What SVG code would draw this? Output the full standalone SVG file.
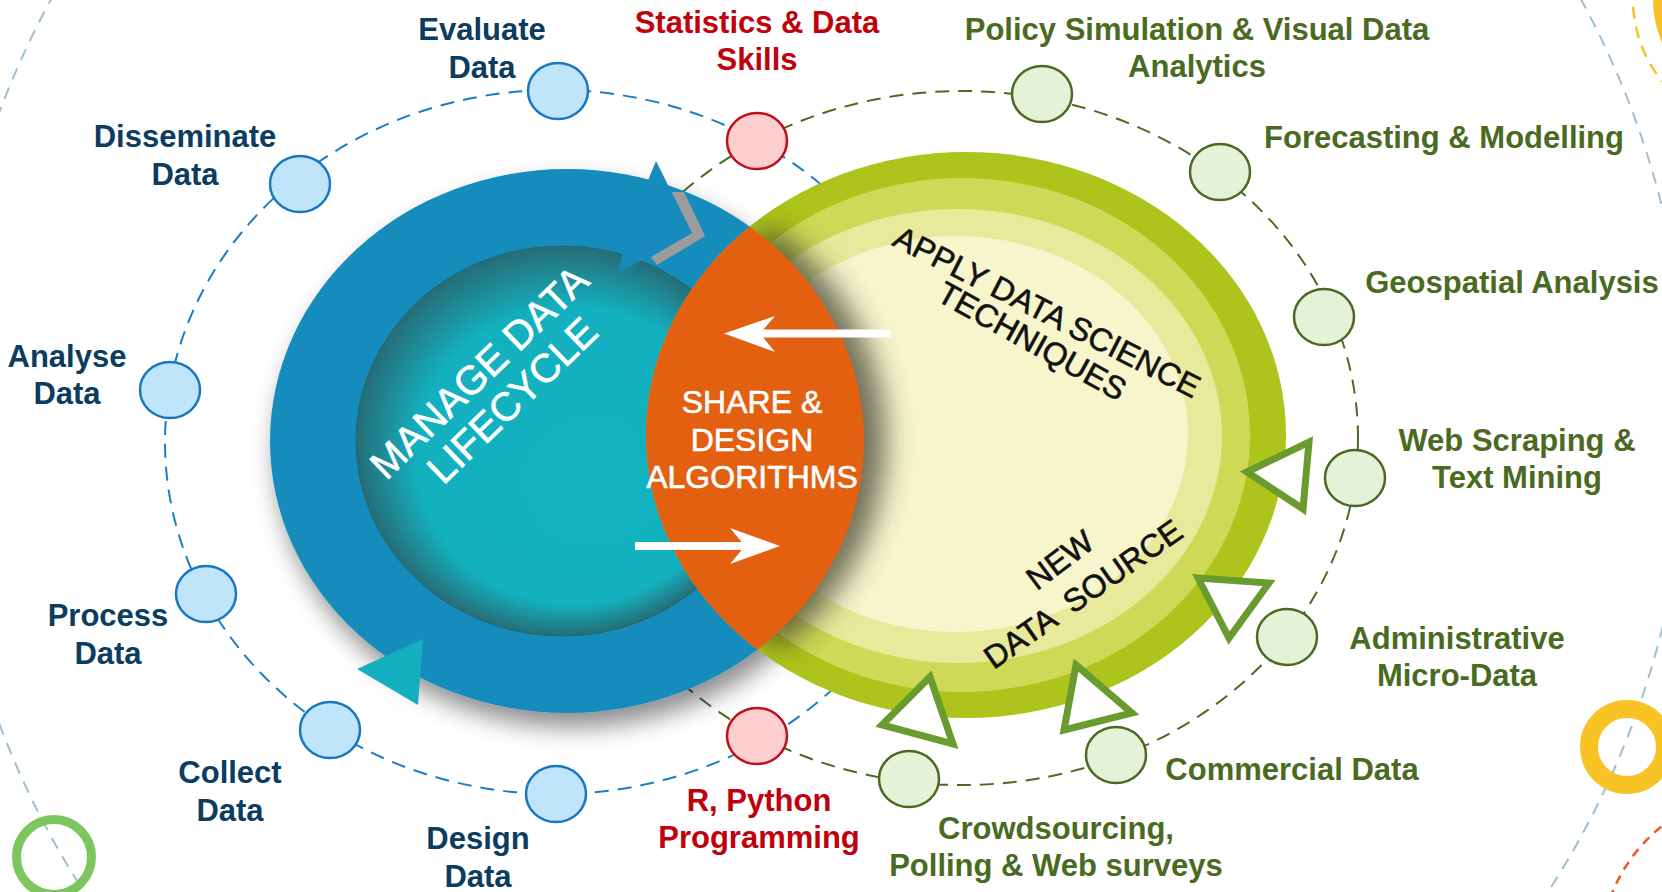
<svg xmlns="http://www.w3.org/2000/svg" width="1662" height="892" viewBox="0 0 1662 892">
<style>
.lbl{font-family:"Liberation Sans",Arial,sans-serif;font-weight:bold;font-size:31px;text-anchor:middle}
.blue{fill:#0c3c60}
.red{fill:#c0000b}
.green{fill:#4a6b1f}
.nb{fill:#c0e5fb;stroke:#1777c0;stroke-width:2.5}
.nr{fill:#fccfce;stroke:#c20e1a;stroke-width:2.5}
.ng{fill:#e5f2d8;stroke:#4a6a22;stroke-width:2.5}
.inner{font-family:"Liberation Sans",Arial,sans-serif;text-anchor:middle}
.wt{fill:#ffffff;stroke:#ffffff;stroke-width:0.6}
.bk{fill:#111111;stroke:#111111;stroke-width:0.6}
.tri{fill:#ffffff;stroke:#6a9b2e;stroke-width:7;stroke-linejoin:miter}
.dash-b{fill:none;stroke:#1a7ec3;stroke-width:2;stroke-dasharray:14 9}
.dash-g{fill:none;stroke:#4c6b24;stroke-width:2;stroke-dasharray:14 9}
.deco{fill:none;stroke:#9dbfd5;stroke-width:2;stroke-dasharray:12 9}
</style>
<defs>
 <radialGradient id="teal" cx="0.5" cy="0.5" r="0.5" fx="0.62" fy="0.66">
  <stop offset="0" stop-color="#13b2c0"/>
  <stop offset="0.76" stop-color="#13b1bf"/>
  <stop offset="1" stop-color="#266d77"/>
 </radialGradient>
 <filter id="dshadow" x="-20%" y="-20%" width="140%" height="150%">
  <feDropShadow dx="6" dy="14" stdDeviation="12" flood-color="#000000" flood-opacity="0.45"/>
 </filter>
 <filter id="blur14" x="-50%" y="-50%" width="200%" height="200%">
  <feGaussianBlur stdDeviation="14"/>
 </filter>
 <clipPath id="clipBlue"><ellipse cx="567" cy="441" rx="297" ry="272"/></clipPath>
 <clipPath id="clipGreen"><ellipse cx="966" cy="435" rx="320" ry="283"/></clipPath>
</defs>

<g id="decor">
 <circle class="deco" cx="816" cy="418" r="872"/>
 <circle cx="1760" cy="0" r="107" fill="#f7c325"/>
 <circle cx="1760" cy="0" r="127" fill="none" stroke="#f7c325" stroke-width="2.5" stroke-dasharray="12 8"/>
 <circle cx="1627" cy="747" r="38" fill="none" stroke="#f7c325" stroke-width="18"/>
 <circle cx="54" cy="857" r="37.5" fill="none" stroke="#7dc55f" stroke-width="9"/>
 <circle cx="1765" cy="955" r="165" fill="none" stroke="#f05a22" stroke-width="2.5" stroke-dasharray="9 7"/>
</g>

<g id="connectors">
 <ellipse class="dash-b" cx="555" cy="442" rx="390" ry="352"/>
 <ellipse class="dash-g" cx="962" cy="438" rx="396" ry="347"/>
</g>

<g id="manage-data-lifecycle">
 <ellipse cx="567" cy="441" rx="297" ry="272" fill="#178cbc" filter="url(#dshadow)"/>
 <ellipse cx="562" cy="441" rx="206" ry="195" fill="url(#teal)" stroke="#1e6a72" stroke-width="1"/>
 <polygon points="671,192 684,192 705,236 657,265 651,257 692,233" fill="#9c9c9c"/>
 <polygon points="649,178 656,161 692,233 618,273 622,256" fill="#178cbc"/>
 <polygon points="423,639 357,669 418,705" fill="#14aebf"/>
 <text class="inner wt" font-size="40" transform="translate(479,372) rotate(-44)" y="14">MANAGE DATA</text>
 <text class="inner wt" font-size="40" transform="translate(512,400) rotate(-44)" y="14">LIFECYCLE</text>
</g>

<g id="new-data-source">
 <ellipse cx="966" cy="435" rx="320" ry="283" fill="#adc41c"/>
 <ellipse cx="962" cy="435" rx="288" ry="257" fill="#cdd957"/>
 <ellipse cx="958" cy="436" rx="264" ry="227" fill="#e8e99a"/>
 <ellipse cx="956" cy="434" rx="232" ry="198" fill="#f6f5cc"/>
 <g clip-path="url(#clipGreen)" opacity="0.7">
  <g filter="url(#blur14)">
   <g transform="translate(22,0)">
    <ellipse cx="966" cy="435" rx="320" ry="283" fill="#3b3a2a" clip-path="url(#clipBlue)"/>
   </g>
  </g>
 </g>
 <text class="inner bk" font-size="32" transform="translate(1047,312) rotate(27)" y="11">APPLY DATA SCIENCE</text>
 <text class="inner bk" font-size="32" transform="translate(1032,341) rotate(29)" y="11">TECHNIQUES</text>
 <text class="inner bk" font-size="32" transform="translate(1060,560) rotate(-37)" y="11">NEW</text>
 <text class="inner bk" font-size="32" xml:space="preserve" transform="translate(1083,594) rotate(-35)" y="11">DATA  SOURCE</text>
 <polygon class="tri" points="1247,472 1309,442 1303,509"/>
 <polygon class="tri" points="1198,578 1269,583 1229,638"/>
 <polygon class="tri" points="1076,665 1132,713 1064,730"/>
 <polygon class="tri" points="930,677 953,744 882,725"/>
</g>

<g id="share-design-algorithms">
 <ellipse cx="966" cy="435" rx="320" ry="283" fill="#e2600f" clip-path="url(#clipBlue)"/>
 <rect x="758" y="329.5" width="133" height="8" fill="#ffffff"/>
 <polygon points="724,333.5 775,316 760,333.5 775,352" fill="#ffffff"/>
 <rect x="635" y="542" width="112" height="8" fill="#ffffff"/>
 <polygon points="780,546 730,528 745,546 730,564" fill="#ffffff"/>
 <text class="inner wt" font-size="32" x="752" y="413">SHARE &amp;</text>
 <text class="inner wt" font-size="32" x="752" y="451">DESIGN</text>
 <text class="inner wt" font-size="32" x="752" y="488">ALGORITHMS</text>
</g>

<g id="node-evaluate"><ellipse class="nb" cx="558" cy="91" rx="30" ry="28"/><text class="lbl blue" x="482" y="40">Evaluate</text><text class="lbl blue" x="482" y="78">Data</text></g>
<g id="node-disseminate"><ellipse class="nb" cx="300" cy="184" rx="30" ry="28"/><text class="lbl blue" x="185" y="147">Disseminate</text><text class="lbl blue" x="185" y="185">Data</text></g>
<g id="node-analyse"><ellipse class="nb" cx="170" cy="390" rx="30" ry="28"/><text class="lbl blue" x="67" y="367">Analyse</text><text class="lbl blue" x="67" y="404">Data</text></g>
<g id="node-process"><ellipse class="nb" cx="206" cy="594" rx="30" ry="28"/><text class="lbl blue" x="108" y="626">Process</text><text class="lbl blue" x="108" y="664">Data</text></g>
<g id="node-collect"><ellipse class="nb" cx="330" cy="730" rx="30" ry="28"/><text class="lbl blue" x="230" y="783">Collect</text><text class="lbl blue" x="230" y="821">Data</text></g>
<g id="node-design"><ellipse class="nb" cx="556" cy="794" rx="30" ry="28"/><text class="lbl blue" x="478" y="849">Design</text><text class="lbl blue" x="478" y="887">Data</text></g>
<g id="node-statistics"><ellipse class="nr" cx="757" cy="141" rx="30" ry="28"/><text class="lbl red" x="757" y="33">Statistics &amp; Data</text><text class="lbl red" x="757" y="70">Skills</text></g>
<g id="node-programming"><ellipse class="nr" cx="757" cy="736" rx="30" ry="28"/><text class="lbl red" x="759" y="811">R, Python</text><text class="lbl red" x="759" y="848">Programming</text></g>
<g id="node-policy"><ellipse class="ng" cx="1042" cy="94" rx="30" ry="28"/><text class="lbl green" x="1197" y="40">Policy Simulation &amp; Visual Data</text><text class="lbl green" x="1197" y="77">Analytics</text></g>
<g id="node-forecasting"><ellipse class="ng" cx="1220" cy="172" rx="30" ry="28"/><text class="lbl green" x="1444" y="148">Forecasting &amp; Modelling</text></g>
<g id="node-geospatial"><ellipse class="ng" cx="1324" cy="317" rx="30" ry="28"/><text class="lbl green" x="1512" y="293">Geospatial Analysis</text></g>
<g id="node-webscraping"><ellipse class="ng" cx="1355" cy="478" rx="30" ry="28"/><text class="lbl green" x="1517" y="451">Web Scraping &amp;</text><text class="lbl green" x="1517" y="488">Text Mining</text></g>
<g id="node-administrative"><ellipse class="ng" cx="1287" cy="637" rx="30" ry="28"/><text class="lbl green" x="1457" y="649">Administrative</text><text class="lbl green" x="1457" y="686">Micro-Data</text></g>
<g id="node-commercial"><ellipse class="ng" cx="1116" cy="755" rx="30" ry="28"/><text class="lbl green" x="1292" y="780">Commercial Data</text></g>
<g id="node-crowdsourcing"><ellipse class="ng" cx="909" cy="779" rx="30" ry="28"/><text class="lbl green" x="1056" y="839">Crowdsourcing,</text><text class="lbl green" x="1056" y="876">Polling &amp; Web surveys</text></g>
</svg>
